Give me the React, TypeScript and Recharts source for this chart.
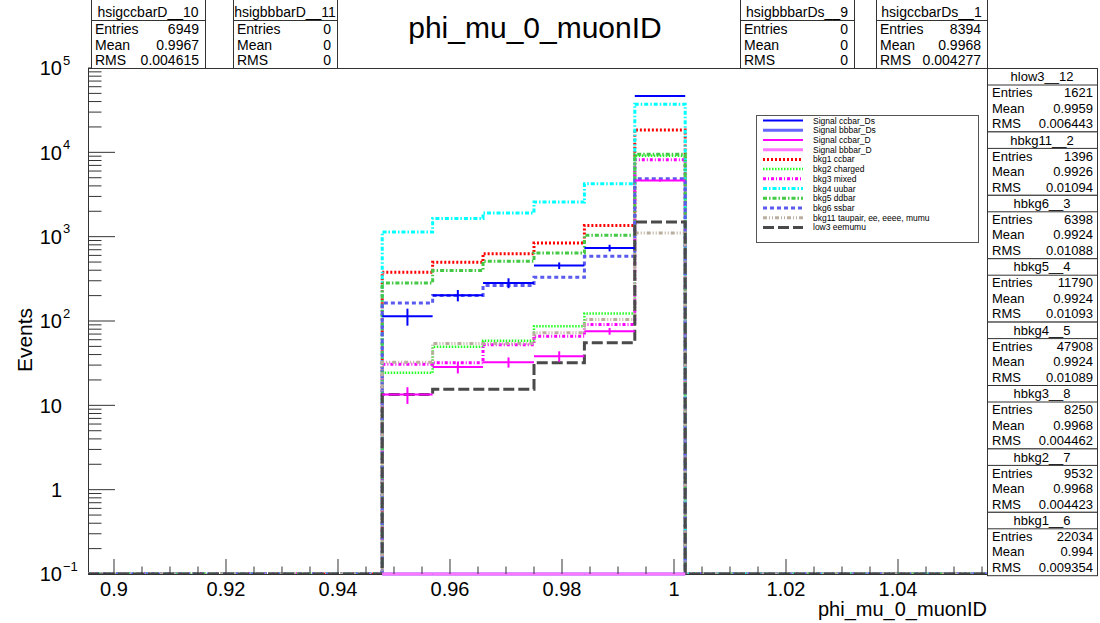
import React from 'react';
import { ComposedChart, Line, Scatter, ErrorBar, XAxis, YAxis } from 'recharts';

// ---------------- data ----------------
const X_MIN = 0.89536;
const X_MAX = 1.05589;
const Y_MIN = 0.1;
const Y_MAX = 100000;

const BIN_EDGES = [0.9479, 0.9569, 0.9659, 0.975, 0.984, 0.993, 1.002];

const SIG_CCBAR_DS = [114, 202, 283, 454, 735, 46600];
const SIG_CCBAR_DS_ERR = [26, 31, 38, 41, 66, 450];
const SIG_BBBAR_DS = [0, 0, 0, 0, 0, 0];
const SIG_CCBAR_D = [13.4, 28.4, 32.5, 38.3, 75.7, 4640];
const SIG_CCBAR_D_ERR = [3, 4.5, 4.5, 5.4, 7, 140];
const SIG_BBBAR_D = [0, 0, 0, 0, 0, 0];

const BKG1_CCBAR = [378, 497, 629, 842, 1361, 18460];
const BKG2_CHARGED = [24.4, 49.5, 58.3, 86.8, 123, 9100];
const BKG3_MIXED = [30.6, 32.0, 52.3, 66.1, 90.9, 8150];
const BKG4_UUBAR = [1136, 1647, 1907, 2573, 4240, 37200];
const BKG5_DDBAR = [283, 396, 510, 641, 1036, 9500];
const BKG6_SSBAR = [164, 200, 263, 330, 585, 4860];
const BKG11_TAUPAIR = [32.5, 54.2, 54, 72.5, 104, 1106];
const LOW3_EEMUMU = [13.4, 15.5, 15.5, 32.0, 55.2, 1493];

const X_TICKS = [0.9, 0.905, 0.91, 0.915, 0.92, 0.925, 0.93, 0.935, 0.94, 0.945, 0.95, 0.955, 0.96, 0.965, 0.97, 0.975, 0.98, 0.985, 0.99, 0.995, 1, 1.005, 1.01, 1.015, 1.02, 1.025, 1.03, 1.035, 1.04, 1.045, 1.05, 1.055];
const X_MAJOR_TICKS = [0.9, 0.92, 0.94, 0.96, 0.98, 1, 1.02, 1.04];
const X_TICK_LABELS = ['0.9', '0.92', '0.94', '0.96', '0.98', '1', '1.02', '1.04'];

const Y_MAJOR_TICKS = [0.1, 1, 10, 100, 1000, 10000, 100000];
const Y_TICK_LABELS = [
  { base: '10', exp: '\u22121' },
  { base: '1', exp: '' },
  { base: '10', exp: '' },
  { base: '10', exp: '2' },
  { base: '10', exp: '3' },
  { base: '10', exp: '4' },
  { base: '10', exp: '5' },
];
const Y_MINOR_MULT = [2, 3, 4, 5, 6, 7, 8, 9];

const TITLE = 'phi_mu_0_muonID';
const X_TITLE = 'phi_mu_0_muonID';
const Y_TITLE = 'Events';

const TOP_STAT_NAMES = ['hsigccbarD__10', 'hsigbbbarD__11', 'hsigbbbarDs__9', 'hsigccbarDs__1'];
const TOP_STAT_ENTRIES = ['6949', '0', '0', '8394'];
const TOP_STAT_MEAN = ['0.9967', '0', '0', '0.9968'];
const TOP_STAT_RMS = ['0.004615', '0', '0', '0.004277'];

const RIGHT_STAT_NAMES = ['hlow3__12', 'hbkg11__2', 'hbkg6__3', 'hbkg5__4', 'hbkg4__5', 'hbkg3__8', 'hbkg2__7', 'hbkg1__6'];
const RIGHT_STAT_ENTRIES = ['1621', '1396', '6398', '11790', '47908', '8250', '9532', '22034'];
const RIGHT_STAT_MEAN = ['0.9959', '0.9926', '0.9924', '0.9924', '0.9924', '0.9968', '0.9968', '0.994'];
const RIGHT_STAT_RMS = ['0.006443', '0.01094', '0.01088', '0.01093', '0.01089', '0.004462', '0.004423', '0.009354'];

// ---------------- styles ----------------
const FONT = '"Liberation Sans", Arial, Helvetica, sans-serif';

type HistStyle = { key: string; label: string; values: number[]; color: string; dash: string; width: number };

const HIST_SERIES: HistStyle[] = [
  { key: 'bkg1', label: 'bkg1 ccbar', values: BKG1_CCBAR, color: '#ff0000', dash: '2 2', width: 3 },
  { key: 'bkg2', label: 'bkg2 charged', values: BKG2_CHARGED, color: '#22ff22', dash: '1.5 1.5', width: 2.5 },
  { key: 'bkg3', label: 'bkg3 mixed', values: BKG3_MIXED, color: '#ff00ff', dash: '3 2 1 2', width: 3 },
  { key: 'bkg4', label: 'bkg4 uubar', values: BKG4_UUBAR, color: '#00ffff', dash: '4 2 1.5 2', width: 3 },
  { key: 'bkg5', label: 'bkg5 ddbar', values: BKG5_DDBAR, color: '#44c944', dash: '4 2 1.5 2', width: 3 },
  { key: 'bkg6', label: 'bkg6 ssbar', values: BKG6_SSBAR, color: '#5a5aee', dash: '4 3', width: 3 },
  { key: 'bkg11', label: 'bkg11 taupair, ee, eeee, mumu', values: BKG11_TAUPAIR, color: '#bcae9e', dash: '4 2 1 2 1 2', width: 3 },
  { key: 'low3', label: 'low3 eemumu', values: LOW3_EEMUMU, color: '#4a4a4a', dash: '11 4', width: 3 },
];

type SigStyle = { key: string; label: string; values: number[]; errors: number[] | null; color: string; width: number };

const SIG_SERIES: SigStyle[] = [
  { key: 'sigCcbarDs', label: 'Signal ccbar_Ds', values: SIG_CCBAR_DS, errors: SIG_CCBAR_DS_ERR, color: '#0000ff', width: 2 },
  { key: 'sigBbbarDs', label: 'Signal bbbar_Ds', values: SIG_BBBAR_DS, errors: null, color: '#6666ff', width: 3 },
  { key: 'sigCcbarD', label: 'Signal ccbar_D', values: SIG_CCBAR_D, errors: SIG_CCBAR_D_ERR, color: '#ff00ff', width: 2 },
  { key: 'sigBbbarD', label: 'Signal bbbar_D', values: SIG_BBBAR_D, errors: null, color: '#ff77ff', width: 3 },
];

// ---------------- derived tables ----------------
const floorVal = (v: number) => (v > 0 ? v : Y_MIN);

const nBins = BIN_EDGES.length - 1;
const histRows: any[] = [];
{
  const first: any = { x: X_MIN };
  HIST_SERIES.forEach((s) => (first[s.key] = Y_MIN));
  histRows.push(first);
  for (let i = 0; i < nBins; i++) {
    const r: any = { x: BIN_EDGES[i] };
    HIST_SERIES.forEach((s) => (r[s.key] = floorVal(s.values[i])));
    histRows.push(r);
  }
  const afterLast: any = { x: BIN_EDGES[nBins] };
  HIST_SERIES.forEach((s) => (afterLast[s.key] = Y_MIN));
  histRows.push(afterLast);
  const end: any = { x: X_MAX };
  HIST_SERIES.forEach((s) => (end[s.key] = Y_MIN));
  histRows.push(end);
}

const sigData = (s: SigStyle) =>
  s.values.map((v, i) => {
    const half = (BIN_EDGES[i + 1] - BIN_EDGES[i]) / 2;
    return { x: BIN_EDGES[i] + half, y: floorVal(v), xerr: half, yerr: s.errors ? s.errors[i] : 0 };
  });

const Y_TICKS: number[] = [];
Y_MAJOR_TICKS.forEach((d, i) => {
  Y_TICKS.push(d);
  if (i < Y_MAJOR_TICKS.length - 1) Y_MINOR_MULT.forEach((m) => Y_TICKS.push(d * m));
});

// ---------------- tick renderers ----------------
function YTick(props: any) {
  const { x, y, payload } = props;
  const v = payload.value;
  const idx = Y_MAJOR_TICKS.findIndex((t) => Math.abs(Math.log10(t) - Math.log10(v)) < 1e-6);
  const major = idx >= 0;
  const lab = major ? Y_TICK_LABELS[idx] : null;
  return (
    <g>
      <line x1={x} y1={y} x2={x + (major ? 27 : 13.5)} y2={y} stroke="#333" strokeWidth={1} />
      {lab && (
        <text x={x - 26} y={y} dy="0.36em" textAnchor="end" fontSize={20} fontFamily={FONT} fill="#000">
          {lab.base}
        </text>
      )}
      {lab && lab.exp && (
        <text x={x - 25} y={y - 8} dy="0.36em" textAnchor="start" fontSize={13} fontFamily={FONT} fill="#000">
          {lab.exp}
        </text>
      )}
    </g>
  );
}

function XTick(props: any) {
  const { x, y, payload } = props;
  const v = payload.value;
  const idx = X_MAJOR_TICKS.findIndex((t) => Math.abs(t - v) < 1e-9);
  const major = idx >= 0;
  return (
    <g>
      <line x1={x} y1={y} x2={x} y2={y - (major ? 15 : 7.5)} stroke="#333" strokeWidth={1} />
      {major && (
        <text x={x} y={y + 22} textAnchor="middle" fontSize={20} fontFamily={FONT} fill="#000">
          {X_TICK_LABELS[idx]}
        </text>
      )}
    </g>
  );
}

const EmptyShape = () => <g />;

// ---------------- stat box ----------------
function StatBox(props: {
  left: number; right: number; top: number; bottom: number; name: string; entries: string; mean: string; rms: string;
  fontSize: number; rowY: number[]; headerY: number; lineY: number; padL: number; padR: number;
}) {
  const { left, right, top, bottom, name, entries, mean, rms, fontSize, rowY, headerY, lineY, padL, padR } = props;
  const rows = [
    ['Entries', entries],
    ['Mean', mean],
    ['RMS', rms],
  ];
  return (
    <g fontFamily={FONT} fontSize={fontSize} fill="#000">
      <rect x={left + 0.5} y={top + 0.5} width={right - left} height={bottom - top} fill="#fff" stroke="#333" strokeWidth={1} />
      <text x={(left + right) / 2} y={headerY} dy="0.36em" textAnchor="middle">
        {name}
      </text>
      <line x1={left} x2={right} y1={lineY + 0.5} y2={lineY + 0.5} stroke="#333" strokeWidth={1} />
      {rows.map((r, i) => (
        <g key={r[0]}>
          <text x={left + padL} y={rowY[i]} dy="0.36em" textAnchor="start">
            {r[0]}
          </text>
          <text x={right - padR} y={rowY[i]} dy="0.36em" textAnchor="end">
            {r[1]}
          </text>
        </g>
      ))}
    </g>
  );
}

const TOP_BOX_X = [
  [91, 205],
  [233, 337],
  [740, 854],
  [876, 987],
];

export default function App() {
  const W = 1100;
  const H = 623;
  const L = 88;
  const R = 987;
  const T = 68;
  const B = 574;
  const RB = 63.4;

  const legendItems = [
    ...SIG_SERIES.map((s) => ({ label: s.label, color: s.color, dash: '', width: s.width })),
    ...HIST_SERIES.map((s) => ({ label: s.label, color: s.color, dash: s.dash, width: s.width })),
  ];

  return (
    <div style={{ position: 'absolute', left: 0, top: 0, width: W, height: H, background: '#fff' }}>
      {/* frame behind the chart */}
      <svg style={{ position: 'absolute', left: 0, top: 0 }} width={W} height={H}>
        <rect x={L + 0.5} y={T + 0.5} width={R - L} height={B - T} fill="#fff" stroke="#333" strokeWidth={1} />
      </svg>
      <div style={{ position: 'absolute', left: 0, top: 0 }}>
        <ComposedChart width={W} height={H} data={histRows} margin={{ top: T, right: W - R, left: 0, bottom: 0 }}>
          <XAxis
            dataKey="x"
            type="number"
            domain={[X_MIN, X_MAX]}
            allowDataOverflow
            ticks={X_TICKS}
            interval={0}
            height={H - B}
            tickSize={0}
            tickMargin={0}
            axisLine={false}
            tickLine={false}
            tick={<XTick />}
          />
          <YAxis
            type="number"
            scale="log"
            domain={[Y_MIN, Y_MAX]}
            allowDataOverflow
            ticks={Y_TICKS}
            interval={0}
            width={L}
            tickSize={0}
            tickMargin={0}
            axisLine={false}
            tickLine={false}
            tick={<YTick />}
          />
          {HIST_SERIES.map((s) => (
            <Line
              key={s.key}
              dataKey={s.key}
              type="stepAfter"
              stroke={s.color}
              strokeWidth={s.width}
              strokeDasharray={s.dash}
              dot={false}
              activeDot={false}
              isAnimationActive={false}
            />
          ))}
          {SIG_SERIES.map((s) => (
            <Scatter key={s.key} data={sigData(s)} dataKey="y" shape={EmptyShape} isAnimationActive={false}>
              <ErrorBar dataKey="xerr" direction="x" width={0} stroke={s.color} strokeWidth={s.width} isAnimationActive={false} />
              {s.errors && <ErrorBar dataKey="yerr" direction="y" width={0} stroke={s.color} strokeWidth={2} isAnimationActive={false} />}
            </Scatter>
          ))}
        </ComposedChart>
      </div>
      {/* overlay: title, axis titles, legend, stat boxes */}
      <svg style={{ position: 'absolute', left: 0, top: 0, pointerEvents: 'none' }} width={W} height={H}>
        <text x={535} y={38} textAnchor="middle" fontSize={30} fontFamily={FONT} fill="#000">
          {TITLE}
        </text>
        <text x={R} y={616} textAnchor="end" fontSize={20} fontFamily={FONT} fill="#000">
          {X_TITLE}
        </text>
        <text x={24} y={340} textAnchor="middle" fontSize={21} fontFamily={FONT} fill="#000" transform="rotate(-90 24 340)" dy="0.36em">
          {Y_TITLE}
        </text>

        {TOP_STAT_NAMES.map((n, i) => (
          <StatBox
            key={n}
            left={TOP_BOX_X[i][0]}
            right={TOP_BOX_X[i][1]}
            top={-2}
            bottom={T}
            name={n}
            entries={TOP_STAT_ENTRIES[i]}
            mean={TOP_STAT_MEAN[i]}
            rms={TOP_STAT_RMS[i]}
            fontSize={14}
            headerY={12}
            lineY={20}
            rowY={[29, 44.5, 60]}
            padL={4}
            padR={6}
          />
        ))}
        {RIGHT_STAT_NAMES.map((n, i) => {
          const top = T + i * RB;
          return (
            <StatBox
              key={n}
              left={R}
              right={1097}
              top={top}
              bottom={top + RB}
              name={n}
              entries={RIGHT_STAT_ENTRIES[i]}
              mean={RIGHT_STAT_MEAN[i]}
              rms={RIGHT_STAT_RMS[i]}
              fontSize={13}
              headerY={top + 8.5}
              lineY={top + 16.5}
              rowY={[top + 24.5, top + 40, top + 55.5]}
              padL={5}
              padR={4}
            />
          );
        })}

        <g>
          <rect x={756.5} y={115.5} width={222} height={127} fill="#fff" stroke="#555" strokeWidth={1} />
          {legendItems.map((it, i) => {
            const cy = 120.5 + i * 9.72;
            return (
              <g key={it.label}>
                <line x1={763} x2={803} y1={cy} y2={cy} stroke={it.color} strokeWidth={it.width} strokeDasharray={it.dash || undefined} />
                <text x={813} y={cy} dy="0.36em" fontSize={8.5} fontFamily={FONT} fill="#000">
                  {it.label}
                </text>
              </g>
            );
          })}
        </g>
      </svg>
    </div>
  );
}
